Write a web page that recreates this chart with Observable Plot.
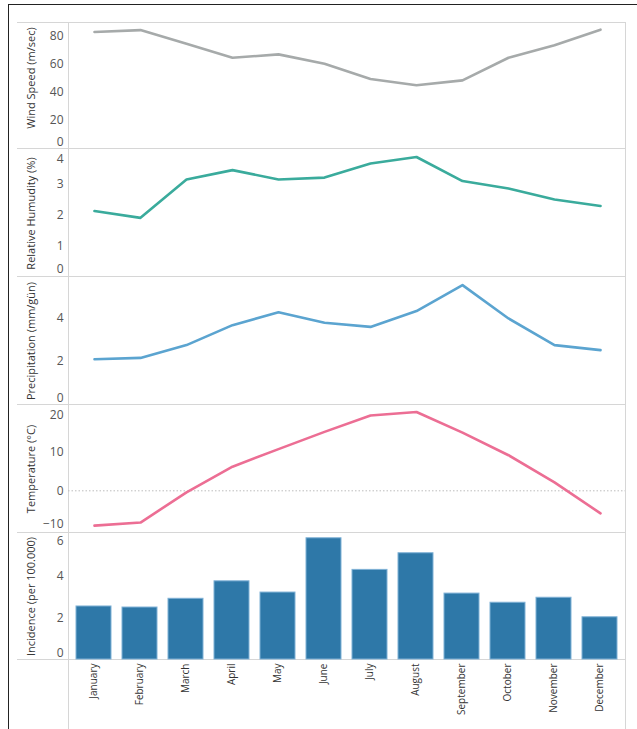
<!DOCTYPE html>
<html>
<head>
<meta charset="utf-8">
<script src="https://cdn.jsdelivr.net/npm/d3@7"></script>
<script src="https://cdn.jsdelivr.net/npm/@observablehq/plot@0.6"></script>
<style>
  html, body { margin: 0; padding: 0; background: #fff; }
  #root { position: relative; width: 637px; height: 729px; overflow: hidden; font-family: "Open Sans", sans-serif; }
  .frame { position: absolute; left: 8px; top: 4px; right: 0; bottom: 0; border-left: 1px solid #222; border-top: 1px solid #222; }
  .hline { position: absolute; left: 17px; width: 609px; height: 0; border-top: 1px solid #d6d6d6; }
  .vline { position: absolute; top: 22px; bottom: 0; width: 0; border-left: 1px solid #d6d6d6; }
  .panel { position: absolute; left: 0; }
</style>
</head>
<body>
<div id="root">
  <div class="frame"></div>
</div>
<script>
// ---- data ----
const months = ["January","February","March","April","May","June","July","August","September","October","November","December"];
const windSpeed = [82.9, 84.3, 74.6, 64.6, 67.0, 60.4, 49.5, 45.0, 48.5, 64.6, 73.5, 84.6];
const humidity = [2.13, 1.91, 3.14, 3.44, 3.14, 3.20, 3.65, 3.86, 3.09, 2.85, 2.50, 2.29];
const precipitation = [2.09, 2.15, 2.74, 3.66, 4.26, 3.77, 3.58, 4.31, 5.51, 3.97, 2.74, 2.51];
const temperature = [-9.1, -8.3, -0.4, 6.3, 10.9, 15.4, 19.7, 20.6, 15.2, 9.3, 2.2, -5.9];
const incidence = [2.55, 2.50, 2.92, 3.76, 3.22, 5.83, 4.31, 5.11, 3.17, 2.73, 2.97, 2.03];

const windTicks = [0, 20, 40, 60, 80];
const humidityTicks = [0, 1, 2, 3, 4];
const precipitationTicks = [0, 2, 4];
const temperatureTicks = [-10, 0, 10, 20];
const incidenceTicks = [0, 2, 4, 6];

const titles = {
  wind: "Wind Speed (m/sec)",
  humidity: "Relative Humudity (%)",
  precipitation: "Precipitation (mm/gün)",
  temperature: "Temperature (°C)",
  incidence: "Incidence (per 100.000)"
};

// ---- layout ----
const W = 637, ML = 68, MR = 12;
const root = document.getElementById("root");
const table = vals => months.map((m, i) => ({month: m, value: vals[i]}));

function addLine(cls, css) {
  const d = document.createElement("div");
  d.className = cls;
  Object.assign(d.style, css);
  root.appendChild(d);
}

function yAxisMarks(ticks, lowDy, highDy) {
  const common = {tickSize: 0, tickPadding: 5, label: null, fontSize: 12, fill: "#555"};
  const mid = ticks.slice(1, -1);
  return [
    Plot.axisY(mid, common),
    Plot.axisY([ticks[0]], {...common, dy: lowDy}),
    Plot.axisY([ticks[ticks.length - 1]], {...common, dy: highDy})
  ];
}

function titleMark(title, dy) {
  return Plot.text([title], {
    frameAnchor: "left", textAnchor: "middle", dx: -37, dy: dy, rotate: -90,
    fontSize: 11, fill: "#333", fontFamily: "Open Sans"
  });
}

function linePanel({values, color, domain, ticks, title, top, height, lowDy, highDy, titleDy = 0, zero = false}) {
  const chart = Plot.plot({
    width: W, height,
    marginLeft: ML, marginRight: MR, marginTop: 0, marginBottom: 0,
    style: {background: "transparent", overflow: "visible", fontFamily: "Open Sans", color: "#555"},
    x: {type: "point", domain: months, padding: 0.5, axis: null},
    y: {domain, axis: null},
    marks: [
      zero ? Plot.ruleY([0], {stroke: "#bdbdbd", strokeDasharray: "1.5,2", strokeWidth: 1}) : null,
      ...yAxisMarks(ticks, lowDy, highDy),
      titleMark(title, titleDy),
      Plot.line(table(values), {x: "month", y: "value", stroke: color, strokeWidth: 2.6, curve: "linear"})
    ]
  });
  chart.classList.add("panel");
  chart.style.top = top + "px";
  root.appendChild(chart);
}

// grid / separators
[22, 148, 276, 404, 532, 659].forEach(y => addLine("hline", {top: y + "px"}));
[ML, W - MR].forEach(x => addLine("vline", {left: x + "px"}));

linePanel({values: windSpeed, color: "#a6aaaa", domain: [0, 89.7], ticks: windTicks,
  title: titles.wind, top: 22, height: 126, lowDy: -6.5, highDy: 0, titleDy: -7.5});
linePanel({values: humidity, color: "#3aab9c", domain: [0, 4.1], ticks: humidityTicks,
  title: titles.humidity, top: 149, height: 128, lowDy: -8, highDy: 6.5});
linePanel({values: precipitation, color: "#5ba4d0", domain: [0, 5.86], ticks: precipitationTicks,
  title: titles.precipitation, top: 277, height: 127, lowDy: -6.5, highDy: 0});
linePanel({values: temperature, color: "#ec6e94", domain: [-10.9, 22.3], ticks: temperatureTicks,
  title: titles.temperature, top: 405, height: 127, lowDy: -4.5, highDy: 1, zero: true});

// bar panel with month axis
const bars = Plot.plot({
  width: W, height: 196,
  marginLeft: ML, marginRight: MR, marginTop: 0, marginBottom: 70,
  style: {background: "transparent", overflow: "visible", fontFamily: "Open Sans", color: "#555"},
  x: {type: "band", domain: months, paddingInner: 0.24, paddingOuter: 0.12, axis: null},
  y: {domain: [0, 6.06], axis: null},
  marks: [
    ...yAxisMarks(incidenceTicks, -6, 6.5),
    titleMark(titles.incidence, 0),
    Plot.barY(table(incidence), {x: "month", y: "value", fill: "#2e78a8", stroke: "#7fb1d6", strokeWidth: 1}),
    Plot.axisX({tickRotate: -90, tickSize: 0, tickPadding: 4, label: null, fontSize: 10, fill: "#333"})
  ]
});
bars.classList.add("panel");
bars.style.top = "533px";
root.appendChild(bars);
</script>
</body>
</html>
